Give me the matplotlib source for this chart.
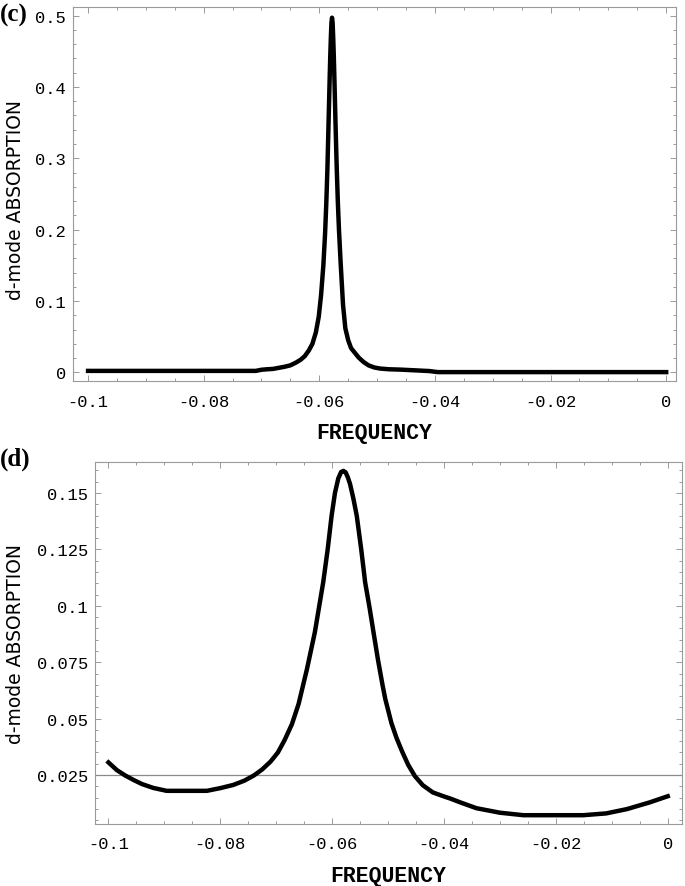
import matplotlib
matplotlib.use("Agg")
import matplotlib.pyplot as plt
from matplotlib.ticker import MultipleLocator

# panel (c): narrow resonance
c_freq = [-0.1, -0.090, -0.080, -0.0710, -0.0700, -0.0690, -0.0680, -0.0670,
          -0.0660, -0.0650, -0.0640, -0.0632, -0.0625, -0.0618, -0.0612,
          -0.0606, -0.0601, -0.0597, -0.0593, -0.0590, -0.0588, -0.0586,
          -0.0584, -0.0582, -0.0581, -0.0580, -0.0579, -0.0578, -0.0577,
          -0.0576, -0.0575, -0.0574, -0.0572, -0.0570, -0.0568, -0.0566,
          -0.0563, -0.0559, -0.0555, -0.0550, -0.0545, -0.0539, -0.0532,
          -0.0524, -0.0515, -0.0505, -0.0495, -0.0480, -0.0460, -0.0440,
          -0.0410, -0.0395, -0.020, 0.0]
c_abs = [0.0022, 0.0022, 0.0022, 0.0022, 0.0038, 0.0045, 0.0050, 0.0065,
         0.0080, 0.0100, 0.0140, 0.0180, 0.0230, 0.0310, 0.0400,
         0.0560, 0.0780, 0.1080, 0.1500, 0.1950, 0.2350, 0.2850,
         0.3500, 0.4150, 0.4450, 0.4700, 0.4900, 0.4970, 0.4900,
         0.4700, 0.4450, 0.4150, 0.3500, 0.2900, 0.2400, 0.2000,
         0.1520, 0.0950, 0.0620, 0.0450, 0.0340, 0.0280, 0.0210,
         0.0150, 0.0100, 0.0070, 0.0055, 0.0045, 0.0040, 0.0032,
         0.0020, 0.0005, 0.0005, 0.0005]

# panel (d): broadened resonance
d_freq = [-0.1, -0.0985, -0.0970, -0.0955, -0.0940, -0.0920, -0.0896, -0.0824,
          -0.0800, -0.0777, -0.0757, -0.0740, -0.0725, -0.0710, -0.0697,
          -0.0685, -0.0672, -0.0660, -0.0645, -0.0631, -0.0616, -0.0608,
          -0.0601, -0.0595, -0.0589, -0.0584, -0.0580, -0.0576, -0.0572,
          -0.0568, -0.0562, -0.0556, -0.0548, -0.0541, -0.0533, -0.0526,
          -0.0518, -0.0510, -0.0505, -0.0494, -0.0485, -0.0475, -0.0464,
          -0.0452, -0.0438, -0.0420, -0.0400, -0.0389, -0.0370, -0.0342,
          -0.0300, -0.0258, -0.0151, -0.0110, -0.0073, -0.0032, 0.0]
d_abs = [0.0306, 0.0272, 0.0248, 0.0228, 0.0210, 0.0193, 0.0180, 0.0180,
         0.0192, 0.0206, 0.0225, 0.0248, 0.0275, 0.0310, 0.0350,
         0.0405, 0.0475, 0.0565, 0.0720, 0.0882, 0.1104, 0.1250,
         0.1399, 0.1500, 0.1565, 0.1593, 0.1598, 0.1592, 0.1570,
         0.1540, 0.1475, 0.1399, 0.1250, 0.1104, 0.0990, 0.0882,
         0.0760, 0.0650, 0.0587, 0.0480, 0.0415, 0.0355, 0.0295,
         0.0245, 0.0205, 0.0173, 0.0155, 0.0146, 0.0128, 0.0103,
         0.0083, 0.0072, 0.0072, 0.0080, 0.0099, 0.0129, 0.0156]

x_ticks = [-0.1, -0.08, -0.06, -0.04, -0.02, 0.0]
x_labels = ["-0.1", "-0.08", "-0.06", "-0.04", "-0.02", "0"]
c_yticks = [0.0, 0.1, 0.2, 0.3, 0.4, 0.5]
c_ylabels = ["0", "0.1", "0.2", "0.3", "0.4", "0.5"]
d_yticks = [0.025, 0.05, 0.075, 0.1, 0.125, 0.15]
d_ylabels = ["0.025", "0.05", "0.075", "0.1", "0.125", "0.15"]

FRAME = "#9a9a9a"
MONO = "Liberation Mono"


def style_axes(ax, xlim, ylim, yticks, ylabels, yminor):
    ax.set_xlim(*xlim)
    ax.set_ylim(*ylim)
    ax.set_xticks(x_ticks, x_labels)
    ax.set_yticks(yticks, ylabels)
    ax.xaxis.set_minor_locator(MultipleLocator(0.005))
    ax.yaxis.set_minor_locator(MultipleLocator(yminor))
    for s in ax.spines.values():
        s.set_color(FRAME)
        s.set_linewidth(0.8)
    ax.tick_params(which="both", direction="in", top=True, right=True,
                   color=FRAME, width=0.7)
    ax.tick_params(which="major", length=4.5, labelsize=12.3,
                   labelfontfamily=MONO)
    ax.tick_params(axis="x", which="major", pad=9)
    ax.tick_params(axis="y", which="major", pad=5)
    ax.tick_params(which="minor", length=2.5)
    ax.set_xlabel("FREQUENCY", fontfamily=MONO, fontweight="bold",
                  fontsize=15.5, labelpad=10)


fig = plt.figure(figsize=(6.85, 8.87), dpi=100)

ax1 = fig.add_axes([0.1066, 0.5693, 0.8803, 0.4217])
ax1.plot(c_freq, c_abs, color="black", lw=3.2, solid_joinstyle="round")
style_axes(ax1, (-0.1026, 0.0017), (-0.012, 0.512), c_yticks, c_ylabels, 0.02)

ax2 = fig.add_axes([0.1387, 0.0699, 0.8565, 0.4085])
ax2.axhline(0.025, color="#8a8a8a", lw=0.9)
ax2.plot(d_freq, d_abs, color="black", lw=3.2, solid_joinstyle="round")
style_axes(ax2, (-0.1024, 0.0025), (0.0033, 0.1639), d_yticks, d_ylabels, 0.005)

fig.text(16 / 685, 1 - 200 / 887, "d-mode ABSORPTION", rotation=90,
         ha="center", va="center", fontsize=13.5, family="DejaVu Sans")
fig.text(16 / 685, 1 - 644 / 887, "d-mode ABSORPTION", rotation=90,
         ha="center", va="center", fontsize=13.5, family="DejaVu Sans")

fig.text(0, 1 - 15 / 887, "(c)", ha="left", va="center",
         fontsize=18, fontweight="bold", family="Liberation Serif")
fig.text(0, 1 - 459 / 887, "(d)", ha="left", va="center",
         fontsize=18, fontweight="bold", family="Liberation Serif")

fig.savefig("out.png", dpi=100)
